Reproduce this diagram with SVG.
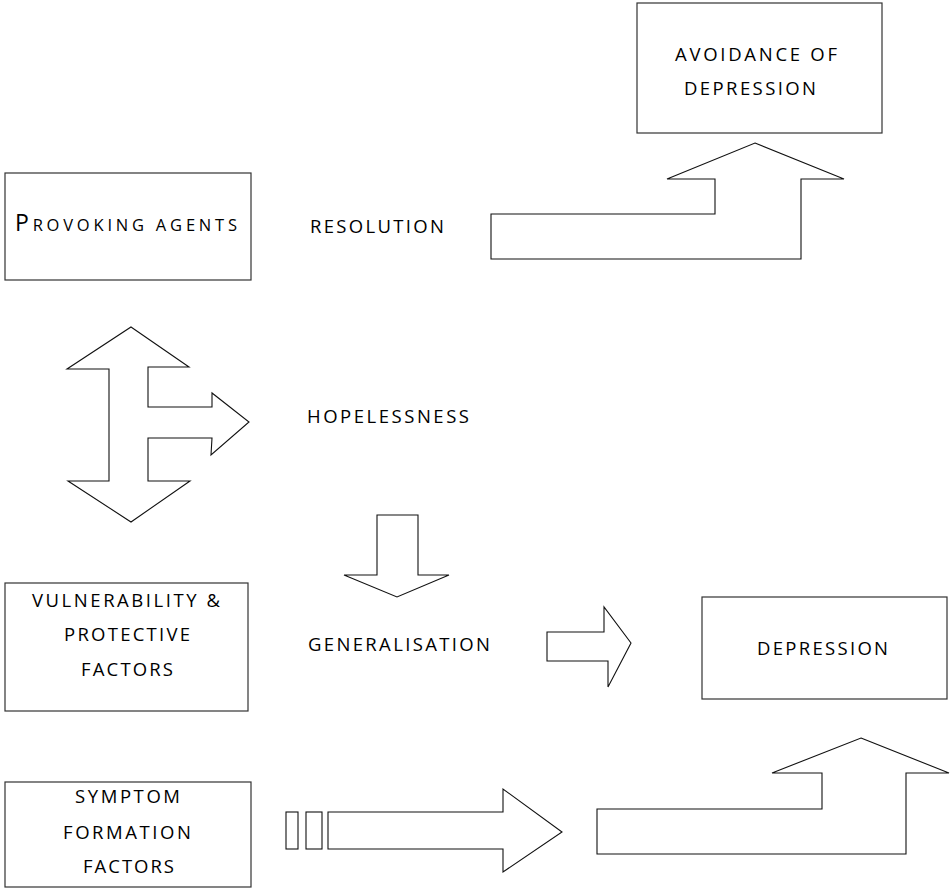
<svg xmlns="http://www.w3.org/2000/svg" width="950" height="889" viewBox="0 0 950 889">
<style>
.box{fill:#fff;stroke:#333;stroke-width:1.2}
.arr{fill:#fff;stroke:#111;stroke-width:1.1;stroke-linejoin:miter}
.t{font-family:"Open Sans","Liberation Sans",sans-serif;font-size:18.5px;font-weight:400;fill:#000}
</style>
<rect width="950" height="889" fill="#fff"/>
<g id="connectors">
<path id="arrow-resolution" class="arr" d="M755,143 L844,179 L801,179 L801,259 L491,259 L491,214 L715,214 L715,179 L667,179 Z"/>
<path id="arrow-double" class="arr" d="M131,327 L189,367 L148,367 L148,407 L212,407 L212,393 L249,422 L211,455 L212,438 L148,438 L148,481 L190,481 L131,522 L68,481 L109,481 L109,369 L67,369 Z"/>
<path id="arrow-down" class="arr" d="M377,515 L418,515 L418,575 L449,575 L397,597 L344,575 L377,575 Z"/>
<path id="arrow-right-mid" class="arr" d="M547,632 L604,632 L604,607 L631,643 L608,687 L608,661 L547,661 Z"/>
<rect class="arr" x="286" y="812" width="12" height="37"/>
<rect class="arr" x="306" y="812" width="16" height="37"/>
<path id="arrow-right-bottom" class="arr" d="M328,812 L503,812 L503,789 L562,832 L503,872 L503,849 L328,849 Z"/>
<path id="arrow-depression" class="arr" d="M861,738 L949,773 L906,773 L906,854 L597,854 L597,809 L822,809 L822,773 L772,773 Z"/>
</g>
<g id="avoidance">
<rect class="box" x="637" y="3" width="245" height="130"/>
<text class="t" x="675" y="61" textLength="162" lengthAdjust="spacing">AVOIDANCE OF</text>
<text class="t" x="684" y="95" textLength="132" lengthAdjust="spacing">DEPRESSION</text>
</g>
<g id="provoking">
<rect class="box" x="5" y="173" width="246" height="107"/>
<text class="t" x="15" y="231" textLength="222" lengthAdjust="spacing"><tspan font-size="23">P</tspan><tspan font-size="16.5">ROVOKING AGENTS</tspan></text>
</g>
<g id="resolution">
<text class="t" x="310" y="233" textLength="134" lengthAdjust="spacing">RESOLUTION</text>
</g>
<g id="hopelessness">
<text class="t" x="307" y="423" textLength="162" lengthAdjust="spacing">HOPELESSNESS</text>
</g>
<g id="vulnerability">
<rect class="box" x="5" y="583" width="243" height="128"/>
<text class="t" x="32" y="607" textLength="188" lengthAdjust="spacing">VULNERABILITY &amp;</text>
<text class="t" x="64" y="641" textLength="126" lengthAdjust="spacing">PROTECTIVE</text>
<text class="t" x="81" y="676" textLength="92" lengthAdjust="spacing">FACTORS</text>
</g>
<g id="generalisation">
<text class="t" x="308" y="651" textLength="182" lengthAdjust="spacing">GENERALISATION</text>
</g>
<g id="depression">
<rect class="box" x="702" y="597" width="245" height="102"/>
<text class="t" x="757" y="655" textLength="131" lengthAdjust="spacing">DEPRESSION</text>
</g>
<g id="symptom">
<rect class="box" x="5" y="782" width="246" height="105"/>
<text class="t" x="75" y="803" textLength="105" lengthAdjust="spacing">SYMPTOM</text>
<text class="t" x="63" y="839" textLength="128" lengthAdjust="spacing">FORMATION</text>
<text class="t" x="83" y="873" textLength="91" lengthAdjust="spacing">FACTORS</text>
</g>
</svg>
